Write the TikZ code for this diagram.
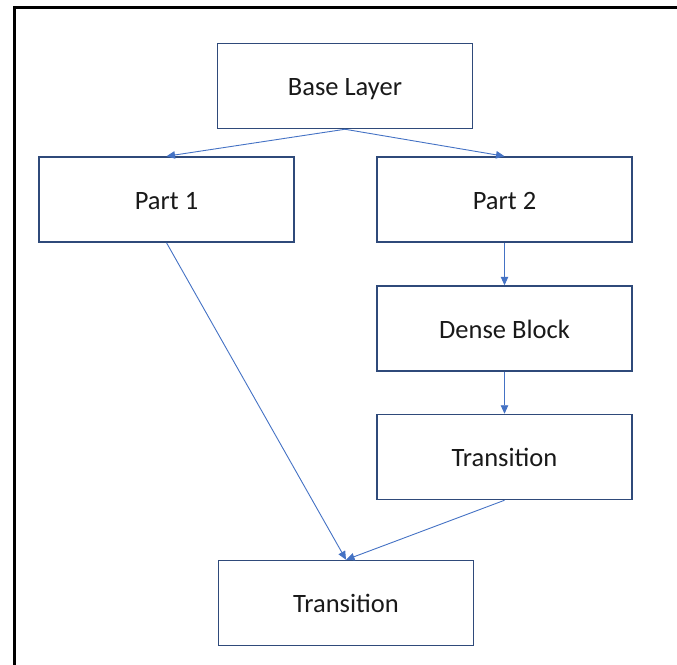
\documentclass[tikz,border=0pt]{standalone}
\usepackage{fontspec}
\setmainfont{Carlito}
\usetikzlibrary{arrows.meta}
\definecolor{boxline}{HTML}{2F4A7A}
\definecolor{flow}{HTML}{4472C4}
\tikzset{
  block/.style={draw=boxline, line width=1.5pt, fill=white,
    minimum width=255pt, minimum height=85pt, inner sep=0pt,
    text height=24.5pt, text depth=5pt,
    font=\fontsize{26.5}{31}\selectfont, text=black!90},
  flowarrow/.style={draw=flow, line width=0.9pt,
    -{Triangle[length=8.5pt,width=7.5pt]}}
}
\begin{document}
\begin{tikzpicture}[x=1pt, y=-1pt]
  \useasboundingbox (0,0) rectangle (677,664);
  % outer frame (left and top edges)
  \draw[line width=3pt, line cap=rect] (14,664) -- (14,7) -- (677,7);

  % blocks
  \node[block] (base)  at (345,86)      {Base Layer};
  \node[block] (p1)    at (166.5,199.5) {Part 1};
  \node[block] (p2)    at (504.5,199.5) {Part 2};
  \node[block] (dense) at (504.5,328.5) {Dense Block};
  \node[block] (tr1)   at (504.5,457)   {Transition};
  \node[block] (tr2)   at (346,603)     {Transition};

  % connectors
  \draw[flowarrow] (base.south) -- (p1.north);
  \draw[flowarrow] (base.south) -- (p2.north);
  \draw[flowarrow] (p2.south) -- (dense.north);
  \draw[flowarrow] (dense.south) -- (tr1.north);
  \draw[flowarrow] (p1.south) -- (tr2.north);
  \draw[flowarrow] (tr1.south) -- (tr2.north);
\end{tikzpicture}
\end{document}
